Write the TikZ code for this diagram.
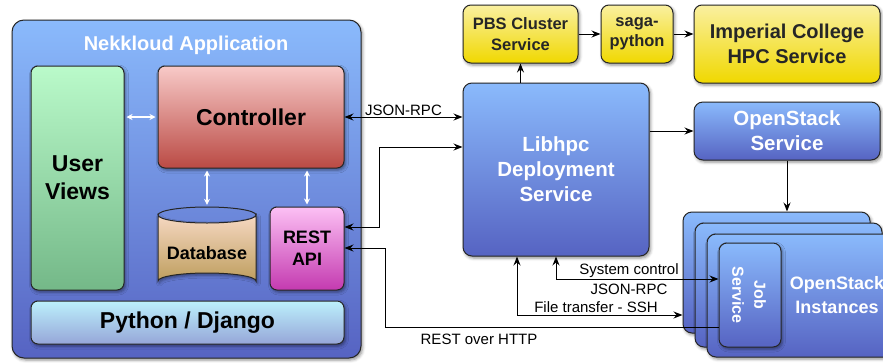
\documentclass[tikz,border=0pt]{standalone}
\usepackage{fontspec}
\setmainfont{Liberation Sans}
\usetikzlibrary{arrows.meta,shadows.blur}

\definecolor{appTop}{HTML}{8ABAFC}
\definecolor{appBot}{HTML}{5663C2}
\definecolor{viewTop}{HTML}{BAFACA}
\definecolor{viewBot}{HTML}{74B888}
\definecolor{ctrlTop}{HTML}{F8CAC8}
\definecolor{ctrlBot}{HTML}{BA4A44}
\definecolor{dbTop}{HTML}{F6D8C2}
\definecolor{dbBot}{HTML}{BE9E5E}
\definecolor{restTop}{HTML}{FCC0F4}
\definecolor{restBot}{HTML}{C43AB0}
\definecolor{djTop}{HTML}{BCF0FC}
\definecolor{djBot}{HTML}{96A6D8}
\definecolor{ylwTop}{HTML}{FAF0A0}
\definecolor{ylwBot}{HTML}{F0D800}

\begin{document}
\begin{tikzpicture}[x=1pt,y=-1pt,
	boxline/.style={draw=black!85,line width=1pt,align=center,inner sep=0pt,
		blur shadow={shadow xshift=1.5pt,shadow yshift=-2pt,shadow blur radius=3pt,shadow opacity=45}},
	appbox/.style={boxline,rounded corners=12pt,top color=appTop,bottom color=appBot},
	bluebox/.style={boxline,rounded corners=9pt,top color=appTop,bottom color=appBot,
		text=white,font=\bfseries\fontsize{20.5}{25}\selectfont},
	partbox/.style={boxline,rounded corners=7pt,font=\bfseries\fontsize{23}{28}\selectfont},
	yellowbox/.style={boxline,rounded corners=8pt,top color=ylwTop,bottom color=ylwBot,
		text=black!85,font=\bfseries\fontsize{16.5}{20.5}\selectfont},
	conn/.style={draw=black,line width=1pt,-{Stealth[length=9pt,width=7pt,inset=3pt]}},
	bconn/.style={conn,{Stealth[length=9pt,width=7pt,inset=3pt]}-{Stealth[length=9pt,width=7pt,inset=3pt]}},
	wconn/.style={draw=white,line width=1.2pt,shorten <=2pt,shorten >=2pt,
		{Stealth[length=6pt,width=6pt,inset=2pt]}-{Stealth[length=6pt,width=6pt,inset=2pt]}},
	lbl/.style={font=\fontsize{15}{18}\selectfont,inner sep=1pt}
	]
	\useasboundingbox (0,0) rectangle (883,362);

	% Nekkloud side
	\node[appbox,minimum width=349pt,minimum height=338pt] (app) at (186.5,189) {};
	\node[text=white,font=\bfseries\fontsize{20}{24}\selectfont] (apptitle) at (186,45) {Nekkloud Application};

	\node[partbox,top color=viewTop,bottom color=viewBot,minimum width=93pt,minimum height=224pt] (views) at (77.5,178) {User\\Views};
	\node[partbox,top color=ctrlTop,bottom color=ctrlBot,minimum width=186pt,minimum height=102pt] (ctrl) at (251,117) {Controller};
	\node[partbox,top color=restTop,bottom color=restBot,minimum width=74pt,minimum height=83pt,
		font=\bfseries\fontsize{18}{22}\selectfont] (rest) at (307,248.5) {REST\\API};
	\node[partbox,top color=djTop,bottom color=djBot,minimum width=313pt,minimum height=43pt] (django) at (187.5,322.5) {Python / Django};

	% database cylinder
	\draw[draw=black!85,line width=1pt,top color=dbTop,bottom color=dbBot,
		blur shadow={shadow xshift=1.5pt,shadow yshift=-2pt,shadow blur radius=3pt,shadow opacity=45}]
		(158,215) -- (158,281) arc[start angle=180,end angle=360,x radius=49,y radius=8]
		-- (256,215) arc[start angle=0,end angle=180,x radius=49,y radius=8] -- cycle;
	\draw[draw=black!85,line width=1pt] (158,215) arc[start angle=180,end angle=360,x radius=49,y radius=8];
	\node[minimum width=98pt,minimum height=82pt,inner sep=0pt] (db) at (207,248) {};
	\node[font=\bfseries\fontsize{18}{22}\selectfont] (dbtext) at (207,253) {Database};

	\path[wconn] (views.east |- ctrl) -- (ctrl.west);
	\path[wconn] (ctrl.south -| db) -- (db.north);
	\path[wconn] (ctrl.south -| rest) -- (rest.north);

	% services
	\node[bluebox,minimum width=186pt,minimum height=173pt] (libhpc) at (556,169.5) {Libhpc\\Deployment\\Service};
	\node[yellowbox,minimum width=115pt,minimum height=58pt] (pbs) at (520.5,34) {PBS Cluster\\Service};
	\node[yellowbox,minimum width=72pt,minimum height=58pt] (saga) at (637,34) {saga-\\python};
	\node[yellowbox,minimum width=186pt,minimum height=78pt,font=\bfseries\fontsize{20}{25}\selectfont] (imperial) at (787,44) {Imperial College\\HPC Service};
	\node[bluebox,minimum width=186pt,minimum height=58pt] (osserv) at (787,131) {OpenStack\\Service};

	% stacked instances
	\node[bluebox,minimum width=187pt,minimum height=121pt] (stack1) at (776.5,272.5) {};
	\node[bluebox,minimum width=187pt,minimum height=124pt] (stack2) at (788.5,285) {};
	\node[bluebox,minimum width=187pt,minimum height=123pt] (stack3) at (800.5,295.5) {};
	\node[bluebox,rounded corners=8pt,minimum width=62pt,minimum height=104pt] (job) at (750,295) {};
	\node[rotate=-90,text=white,align=center,font=\bfseries\fontsize{16}{22}\selectfont] (jobtext) at (749,295) {Job\\Service};
	\node[text=white,align=center,font=\bfseries\fontsize{18}{24}\selectfont] (insttext) at (837,295) {OpenStack\\Instances};

	% connections
	\path[bconn] (ctrl.east) -- node[lbl,above] (rpc) {JSON-RPC} (ctrl.east -| libhpc.west);
	\path[bconn] (libhpc.west |- 0,147) -- (379,147) |- (rest.east |- 0,227);
	\path[conn] (job.west |- 0,327) -- (385,327) |- (rest.east |- 0,248);
	\node[lbl] (http) at (479,339) {REST over HTTP};
	\path[bconn] (libhpc.south) |- (job.west |- 0,279);
	\node[lbl] (sysctl) at (629,271) {System control};
	\node[lbl] (sysrpc) at (629,289) {JSON-RPC};
	\path[bconn] ([xshift=-39pt]libhpc.south) |- (stack1.west |- 0,315);
	\node[lbl] (ssh) at (596,307) {File transfer - SSH};
	\path[conn] (libhpc.north -| pbs) -- (pbs.south);
	\path[conn] (pbs.east) -- (saga.west);
	\path[conn] (saga.east) -- (saga.east -| imperial.west);
	\path[conn] (libhpc.east |- osserv) -- (osserv.west);
	\path[conn] (osserv.south) -- (osserv.south |- stack1.north);

\end{tikzpicture}
\end{document}
